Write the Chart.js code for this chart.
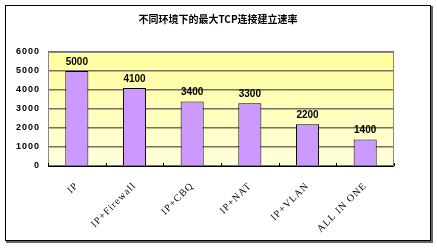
<!DOCTYPE html>
<html>
<head>
<meta charset="utf-8">
<script src="https://cdn.jsdelivr.net/npm/chart.js@4/dist/chart.umd.min.js"></script>
<style>
  html, body { margin: 0; padding: 0; background: #fff; }
  #wrap { width: 437px; height: 248px; }
</style>
</head>
<body>
<div id="wrap"><canvas id="chart" width="437" height="248"></canvas></div>
<script>
/* data */
const title = "不同环境下的最大TCP连接建立速率";
const categories = ["IP", "IP+Firewall", "IP+CBQ", "IP+NAT", "IP+VLAN", "ALL IN ONE"];
const rates = [5000, 4100, 3400, 3300, 2200, 1400];
const yTicks = [0, 1000, 2000, 3000, 4000, 5000, 6000];

/* frame, title, background */
const framePlugin = {
  id: "frame",
  beforeDraw(chart) {
    const c = chart.ctx;
    const a = chart.chartArea;
    c.save();
    c.fillStyle = "#fff";
    c.fillRect(0, 0, chart.width, chart.height);
    c.strokeStyle = "#000";
    c.lineWidth = 1;
    c.strokeRect(5.5, 5.5, 425, 235);
    c.fillStyle = "#666";
    c.fillRect(6, 241, 426, 2);
    c.fillRect(431, 6, 2, 237);

    const g = c.createLinearGradient(0, a.top, 0, a.bottom);
    g.addColorStop(0, "#ffff99");
    g.addColorStop(1, "#ffffdd");
    c.fillStyle = g;
    c.fillRect(a.left, a.top, a.right - a.left, a.bottom - a.top);

    c.fillStyle = "#000";
    c.font = "bold 10px 'Noto Sans CJK SC'";
    c.textAlign = "center";
    c.textBaseline = "middle";
    c.fillText(title, 218, 19);
    c.restore();
    // axis texts are spaced out a little in the original
    c.letterSpacing = "1px";
  },
  afterDraw(chart) {
    const c = chart.ctx;
    const a = chart.chartArea;
    const meta = chart.getDatasetMeta(0);
    c.letterSpacing = "0px";
    c.save();
    c.strokeStyle = "#888";
    c.lineWidth = 1;
    c.strokeRect(a.left + 0.5, a.top + 0.5, a.right - a.left - 1, a.bottom - a.top);
    // small inner tick marks between categories
    c.strokeStyle = "#000";
    const xs = chart.scales.x;
    for (let i = 0; i <= categories.length; i++) {
      const px = Math.round(xs.getPixelForValue(i - 0.5)) + 0.5;
      c.beginPath();
      c.moveTo(px, a.bottom);
      c.lineTo(px, a.bottom - 3);
      c.stroke();
    }
    c.beginPath();
    c.moveTo(a.left, Math.round(a.bottom) + 0.5);
    c.lineTo(a.right, Math.round(a.bottom) + 0.5);
    c.stroke();
    // value labels
    c.fillStyle = "#000";
    c.font = "bold 10px 'Liberation Sans'";
    c.textAlign = "center";
    c.textBaseline = "bottom";
    meta.data.forEach((bar, i) => {
      c.fillText(String(rates[i]), bar.x, bar.y - 4);
    });
    c.restore();
  }
};

new Chart(document.getElementById("chart"), {
  type: "bar",
  data: {
    labels: categories,
    datasets: [{
      data: rates,
      backgroundColor: "#cc99ff",
      borderColor: "#000",
      borderWidth: 1,
      categoryPercentage: 1,
      barPercentage: 0.4
    }]
  },
  options: {
    responsive: false,
    animation: false,
    layout: { padding: { left: 6, top: 52, right: 43, bottom: 8 } },
    plugins: {
      legend: { display: false },
      tooltip: { enabled: false }
    },
    scales: {
      x: {
        grid: { display: false },
        border: { display: false },
        afterFit(s) { s.height = 74; },
        ticks: {
          color: "#000",
          minRotation: 45,
          maxRotation: 45,
          padding: 6,
          font: { family: "'Liberation Serif'", size: 10 }
        }
      },
      y: {
        min: 0,
        max: 6000,
        afterFit(s) { s.width = 42; },
        afterBuildTicks(s) { s.ticks = yTicks.map(v => ({ value: v })); },
        border: { display: false },
        grid: { color: "#777060", lineWidth: 1.5, drawTicks: false },
        ticks: {
          color: "#000",
          padding: 8,
          callback: v => String(v),
          font: { family: "'Liberation Sans'", size: 9, weight: "bold" }
        }
      }
    }
  },
  plugins: [framePlugin]
});
</script>
</body>
</html>
